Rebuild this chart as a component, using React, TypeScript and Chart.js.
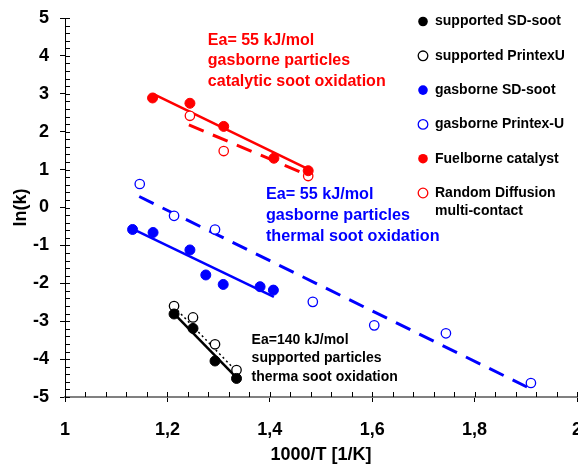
import React, { useEffect, useRef } from 'react';
import { Chart, registerables } from 'chart.js';

Chart.register(...registerables);

// ---- data ----
const supSDX = [1.213, 1.25, 1.293, 1.335];
const supSDY = [-2.81, -3.19, -4.05, -4.51];
const supPUX = [1.213, 1.25, 1.293, 1.335];
const supPUY = [-2.6, -2.9, -3.61, -4.29];
const gasSDX = [1.132, 1.172, 1.244, 1.275, 1.309, 1.381, 1.407];
const gasSDY = [-0.58, -0.66, -1.12, -1.78, -2.03, -2.09, -2.18];
const gasPUX = [1.146, 1.213, 1.293, 1.484, 1.604, 1.744, 1.91];
const gasPUY = [0.62, -0.22, -0.58, -2.49, -3.11, -3.32, -4.63];
const fuelX = [1.171, 1.244, 1.31, 1.408, 1.475];
const fuelY = [2.89, 2.75, 2.14, 1.3, 0.97];
const randX = [1.244, 1.31, 1.475];
const randY = [2.42, 1.49, 0.83];

// fitted lines (end points)
const fitSupSDX = [1.213, 1.335];
const fitSupSDY = [-2.8, -4.49];
const fitSupPUX = [1.213, 1.336];
const fitSupPUY = [-2.62, -4.34];
const fitGasSDX = [1.14, 1.408];
const fitGasSDY = [-0.62, -2.36];
const fitGasPUX = [1.145, 1.912];
const fitGasPUY = [0.29, -4.8];
const fitFuelX = [1.172, 1.475];
const fitFuelY = [3.0, 1.01];
const fitRandX = [1.242, 1.475];
const fitRandY = [2.18, 0.85];

const legendLabels = [
  'supported SD-soot',
  'supported PrintexU',
  'gasborne SD-soot',
  'gasborne Printex-U',
  'Fuelborne catalyst',
  'Random Diffusion\nmulti-contact',
];

const xMin = 1;
const xMax = 2;
const xStep = 0.2;
const yMin = -5;
const yMax = 5;
const yStep = 1;

const redNote = ['Ea= 55 kJ/mol', 'gasborne particles', 'catalytic soot oxidation'];
const blueNote = ['Ea= 55 kJ/mol', 'gasborne particles', 'thermal soot oxidation'];
const blackNote = ['Ea=140 kJ/mol', 'supported particles', 'therma soot oxidation'];

const BLACK = '#000000';
const BLUE = '#0000ff';
const RED = '#ff0000';
const FONT = "'Liberation Sans', Arial, sans-serif";

const pts = (xs: number[], ys: number[]) => xs.map((x, i) => ({ x, y: ys[i] }));

const decorPlugin = {
  id: 'decor',
  afterDraw(chart: any) {
    const { ctx, chartArea, scales } = chart;
    const xs = scales.x;
    const ys = scales.y;
    ctx.save();
    // inner ticks (major + minor)
    ctx.strokeStyle = '#000';
    ctx.lineWidth = 1;
    const ny = Math.round((yMax - yMin) / 0.2);
    for (let i = 0; i <= ny; i++) {
      const p = Math.round(ys.getPixelForValue(yMin + i * 0.2)) + 0.5;
      ctx.beginPath();
      ctx.moveTo(chartArea.left, p);
      ctx.lineTo(chartArea.left + 5, p);
      ctx.stroke();
    }
    const nx = Math.round((xMax - xMin) / 0.04);
    for (let i = 0; i <= nx; i++) {
      const p = Math.round(xs.getPixelForValue(xMin + i * 0.04)) + 0.5;
      ctx.beginPath();
      ctx.moveTo(p, chartArea.bottom);
      ctx.lineTo(p, chartArea.bottom - 5);
      ctx.stroke();
    }

    // legend
    const ds = chart.data.datasets.filter((d: any) => d.legendIndex !== undefined);
    const mx = chartArea.right - 154;
    const tx = chartArea.right - 142;
    ctx.font = `bold 14px ${FONT}`;
    ctx.textBaseline = 'middle';
    ctx.textAlign = 'left';
    ds.forEach((d: any) => {
      const i = d.legendIndex;
      const y = chartArea.top + 3.5 + i * 34.3;
      ctx.beginPath();
      ctx.arc(mx, y, 4.8, 0, Math.PI * 2);
      if (d.filled) {
        ctx.fillStyle = d.borderColor;
        ctx.fill();
      } else {
        ctx.fillStyle = '#fff';
        ctx.fill();
        ctx.lineWidth = 1.3;
        ctx.strokeStyle = d.borderColor;
        ctx.stroke();
      }
      ctx.fillStyle = '#000';
      String(d.label)
        .split('\n')
        .forEach((line: string, k: number) => ctx.fillText(line, tx, y + k * 18.5));
    });

    // annotations
    const note = (lines: string[], xv: number, yv: number, color: string, size: number, lh: number) => {
      ctx.font = `bold ${size}px ${FONT}`;
      ctx.fillStyle = color;
      const x0 = xs.getPixelForValue(xv);
      const y0 = ys.getPixelForValue(yv);
      lines.forEach((l, k) => ctx.fillText(l, x0, y0 + k * lh));
    };
    note(redNote, 1.279, 4.41, RED, 16, 20.5);
    note(blueNote, 1.3925, 0.349, BLUE, 16.2, 21.2);
    note(blackNote, 1.3645, -3.5, BLACK, 14, 18.3);
    ctx.restore();
  },
};

function scatterDs(label: string, idx: number, xs: number[], ys: number[], color: string, filled: boolean) {
  return {
    type: 'scatter',
    label,
    legendIndex: idx,
    filled,
    data: pts(xs, ys),
    showLine: false,
    pointRadius: filled ? 5 : 4.7,
    pointHoverRadius: 5,
    pointBackgroundColor: filled ? color : '#ffffff',
    pointBorderColor: color,
    pointBorderWidth: filled ? 1 : 1.3,
    borderColor: color,
    backgroundColor: color,
  };
}

function lineDs(xs: number[], ys: number[], color: string, width: number, dash: number[]) {
  return {
    type: 'scatter',
    label: '',
    data: pts(xs, ys),
    showLine: true,
    pointRadius: 0,
    borderColor: color,
    borderWidth: width,
    borderDash: dash,
    fill: false,
  };
}

const fmt = (v: number) => String(Math.round(v * 10) / 10).replace('.', ',');

export default function App() {
  const ref = useRef<HTMLCanvasElement | null>(null);
  useEffect(() => {
    if (!ref.current) return;
    const chart = new Chart(ref.current, {
      type: 'scatter',
      data: {
        datasets: [
          scatterDs(legendLabels[0], 0, supSDX, supSDY, BLACK, true),
          scatterDs(legendLabels[1], 1, supPUX, supPUY, BLACK, false),
          scatterDs(legendLabels[2], 2, gasSDX, gasSDY, BLUE, true),
          scatterDs(legendLabels[3], 3, gasPUX, gasPUY, BLUE, false),
          scatterDs(legendLabels[4], 4, fuelX, fuelY, RED, true),
          scatterDs(legendLabels[5], 5, randX, randY, RED, false),
          lineDs(fitSupSDX, fitSupSDY, BLACK, 2.5, []),
          lineDs(fitSupPUX, fitSupPUY, BLACK, 1.5, [2, 3]),
          lineDs(fitGasSDX, fitGasSDY, BLUE, 2.5, []),
          lineDs(fitGasPUX, fitGasPUY, BLUE, 3, [16, 10]),
          lineDs(fitFuelX, fitFuelY, RED, 2.5, []),
          lineDs(fitRandX, fitRandY, RED, 3, [16, 10]),
        ] as any,
      },
      plugins: [decorPlugin],
      options: {
        animation: false,
        responsive: true,
        maintainAspectRatio: false,
        layout: { autoPadding: false, padding: { top: 18, right: 1, left: 0, bottom: 0 } },
        plugins: { legend: { display: false }, tooltip: { enabled: false } },
        scales: {
          x: {
            type: 'linear',
            min: xMin,
            max: xMax,
            afterFit: (s: any) => {
              s.height = 69;
              s.paddingLeft = 0;
              s.paddingRight = 0;
            },
            ticks: {
              stepSize: xStep,
              callback: (v: any) => fmt(Number(v)),
              color: '#000',
              font: { family: FONT, size: 18, weight: 'bold' },
              padding: 17,
              maxRotation: 0,
            },
            grid: {
              drawOnChartArea: false,
              drawTicks: true,
              tickLength: 5,
              tickColor: '#000',
            },
            border: { color: '#808080', width: 2 },
            title: {
              display: true,
              text: '1000/T [1/K]',
              color: '#000',
              font: { family: FONT, size: 18, weight: 'bold' },
              padding: { top: 0, bottom: 0 },
            },
          },
          y: {
            type: 'linear',
            min: yMin,
            max: yMax,
            afterFit: (s: any) => {
              s.width = 65;
              s.paddingTop = 0;
              s.paddingBottom = 0;
            },
            ticks: {
              stepSize: yStep,
              callback: (v: any) => fmt(Number(v)),
              color: '#000',
              font: { family: FONT, size: 18, weight: 'bold' },
              padding: 11,
            },
            grid: {
              drawOnChartArea: false,
              drawTicks: true,
              tickLength: 5,
              tickColor: '#000',
            },
            border: { color: '#000', width: 1 },
            title: {
              display: true,
              text: 'ln(k)',
              color: '#000',
              font: { family: FONT, size: 18, weight: 'bold' },
              padding: { top: 10, bottom: 0 },
            },
          },
        },
      } as any,
    });
    return () => chart.destroy();
  }, []);
  return (
    <div style={{ position: 'fixed', left: 0, top: 0, width: 578, height: 466 }}>
      <canvas ref={ref} />
    </div>
  );
}
